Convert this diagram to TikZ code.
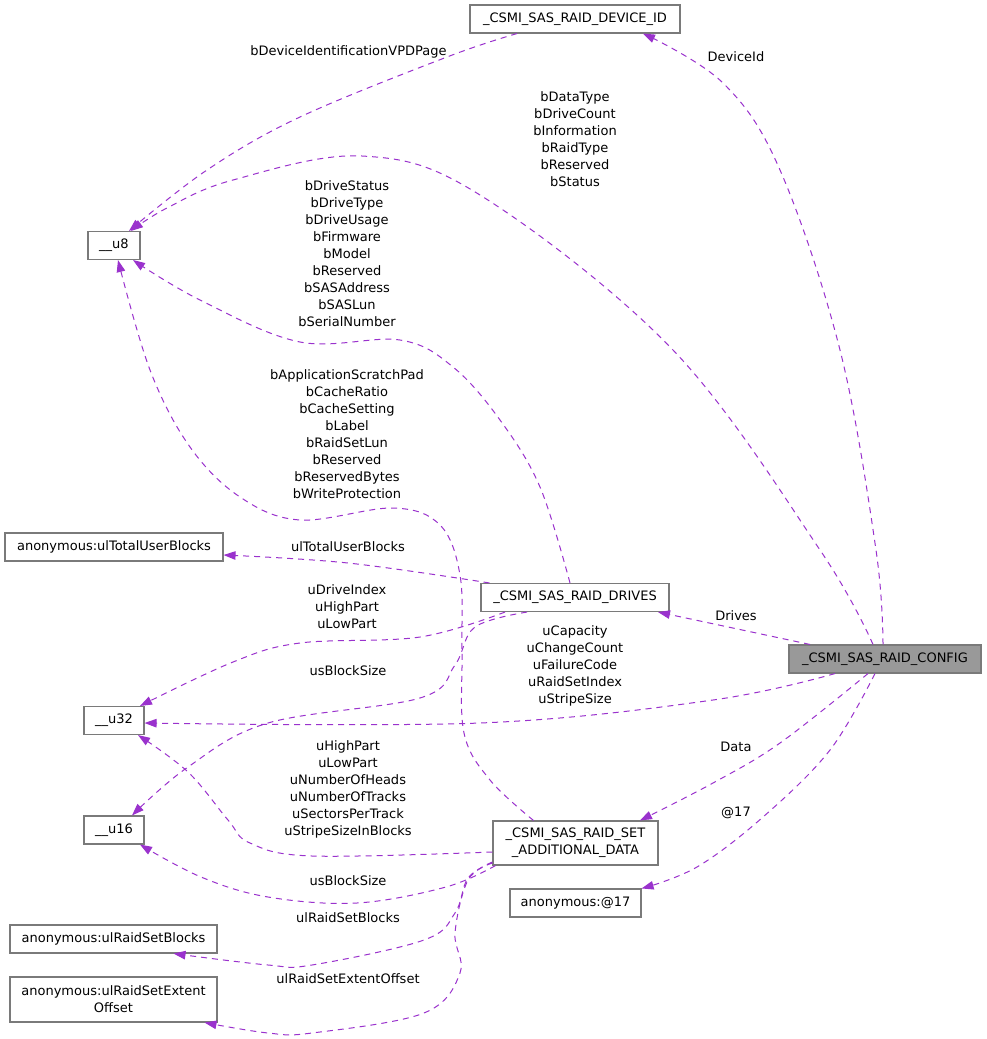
\documentclass[tikz,border=0pt]{standalone}
\usepackage{fontspec}
\setmainfont{DejaVu Sans}
\usetikzlibrary{arrows.meta}
\definecolor{edgec}{HTML}{9A32CD}
\definecolor{boxc}{HTML}{7A7A7A}
\definecolor{cfgfill}{HTML}{999999}
\begin{document}
\begin{tikzpicture}[x=1pt,y=-1pt,
  box/.style={draw=boxc,line width=1.1pt,minimum height=28pt,inner sep=0pt,font=\fontsize{13}{17}\selectfont,align=center},
  lbl/.style={inner sep=0pt,font=\fontsize{13}{17}\selectfont,align=center},
  edge/.style={draw=edgec,line width=1pt,dash pattern=on 6pt off 5pt,-{Triangle[length=12pt,width=8.5pt]}}]
\useasboundingbox[fill=white] (0,0) rectangle (986,1039);
% nodes
\node[box,minimum width=210pt] (devid) at (575,19) {\_CSMI\_SAS\_RAID\_DEVICE\_ID};
\node[box,minimum width=52pt] (u8) at (114,245.5) {\_\_u8};
\node[box,minimum width=218pt] (ultot) at (114,547) {anonymous:ulTotalUserBlocks};
\node[box,minimum width=188pt] (drives) at (575,597.5) {\_CSMI\_SAS\_RAID\_DRIVES};
\node[box,minimum width=192pt,fill=cfgfill] (cfg) at (885,659) {\_CSMI\_SAS\_RAID\_CONFIG};
\node[box,minimum width=60pt] (u32) at (114,720.5) {\_\_u32};
\node[box,minimum width=60pt] (u16) at (114,830) {\_\_u16};
\node[box,minimum width=165pt,minimum height=44pt] (set) at (575.5,843) {\_CSMI\_SAS\_RAID\_SET\\\_ADDITIONAL\_DATA};
\node[box,minimum width=131pt] (a17) at (575.5,903) {anonymous:@17};
\node[box,minimum width=207pt] (blocks) at (113.5,939) {anonymous:ulRaidSetBlocks};
\node[box,minimum width=207pt,minimum height=45pt] (extent) at (113.5,999.5) {anonymous:ulRaidSetExtent\\Offset};
% labels
\node[lbl] (l1) at (736,57) {DeviceId};
\node[lbl] (l2) at (348.5,52) {bDeviceIdentificationVPDPage};
\node[lbl] (l3) at (575,139) {bDataType\\bDriveCount\\bInformation\\bRaidType\\bReserved\\bStatus};
\node[lbl] (l4) at (347,254) {bDriveStatus\\bDriveType\\bDriveUsage\\bFirmware\\bModel\\bReserved\\bSASAddress\\bSASLun\\bSerialNumber};
\node[lbl] (l5) at (347,434.5) {bApplicationScratchPad\\bCacheRatio\\bCacheSetting\\bLabel\\bRaidSetLun\\bReserved\\bReservedBytes\\bWriteProtection};
\node[lbl] (l6) at (348,547) {ulTotalUserBlocks};
\node[lbl] (l7) at (347,607) {uDriveIndex\\uHighPart\\uLowPart};
\node[lbl] (l8) at (348,671) {usBlockSize};
\node[lbl] (l9) at (736,616) {Drives};
\node[lbl] (l10) at (575,665.5) {uCapacity\\uChangeCount\\uFailureCode\\uRaidSetIndex\\uStripeSize};
\node[lbl] (l11) at (348,789.5) {uHighPart\\uLowPart\\uNumberOfHeads\\uNumberOfTracks\\uSectorsPerTrack\\uStripeSizeInBlocks};
\node[lbl] (l12) at (736,747) {Data};
\node[lbl] (l13) at (736,813) {@17};
\node[lbl] (l14) at (348,881) {usBlockSize};
\node[lbl] (l15) at (348,918) {ulRaidSetBlocks};
\node[lbl] (l16) at (348,979) {ulRaidSetExtentOffset};
% edges
\draw[edge] plot[smooth,tension=0.6] coordinates {([xshift=-2pt]cfg.north) (876,550) (840,350) (780,170) (723,83) ([xshift=68pt]devid.south)};
\draw[edge] plot[smooth,tension=0.6] coordinates {([xshift=-12pt]cfg.north) (820,550) (673,350) (480,195) (362,156) (233,180) (167,208) ([xshift=17pt]u8.north)};
\draw[edge] plot[smooth,tension=0.6] coordinates {([xshift=-58pt]devid.south) (447,57) (300,117) (207,170) ([xshift=15pt]u8.north)};
\draw[edge] plot[smooth,tension=0.6] coordinates {([xshift=-5pt]drives.north) (540,487) (500,420) (453,367) (400,340) (300,342) (200,300) ([xshift=19pt]u8.south)};
\draw[edge] plot[smooth,tension=0.6] coordinates {([xshift=-42pt]set.north) (490,780) (464,733) (462,650) (460,575) (440,525) (393,508) (300,520) (240,497) (190,447) (150,370) ([xshift=4pt]u8.south)};
\draw[edge] plot[smooth,tension=0.6] coordinates {([xshift=9pt]drives.north west) (348,563) ([yshift=-8pt]ultot.east)};
\draw[edge] plot[smooth,tension=0.6] coordinates {([xshift=-70pt]drives.south) (420,637) (300,643) (233,662) ([xshift=26pt]u32.north)};
\draw[edge] plot[smooth,tension=0.6] coordinates {([xshift=-48pt]drives.south) (475,627) (455,665) (420,698) (268,723) (188,767) ([xshift=18pt]u16.north)};
\draw[edge] ([xshift=-75pt]cfg.north) -- ([xshift=83pt]drives.south);
\draw[edge] plot[smooth,tension=0.6] coordinates {([xshift=-50pt]cfg.south) (713,700) (480,723) ([yshift=-2.5pt]u32.east)};
\draw[edge] plot[smooth,tension=0.6] coordinates {([xshift=-17pt]cfg.south) (780,743) (713,783) ([xshift=64.5pt]set.north)};
\draw[edge] plot[smooth,tension=0.6] coordinates {([xshift=-10pt]cfg.south) (830,750) (763,817) (697,867) (a17.north east)};
\draw[edge] plot[smooth,tension=0.6] coordinates {([yshift=-9pt]set.west) (312,856) (250,843) (228,820) (188,772) ([xshift=24pt]u32.south)};
\draw[edge] plot[smooth,tension=0.6] coordinates {([xshift=3pt]set.south west) (446,887) (357,903) (268,897) (201,877) ([xshift=26pt]u16.south)};
\draw[edge] plot[smooth,tension=0.6] coordinates {([yshift=-19pt]set.west) (468,878) (455,913) (424,940) (312,965) (268,965) ([xshift=60pt]blocks.south)};
\draw[edge] plot[smooth,tension=0.6] coordinates {([yshift=-20pt]set.west) (468,880) (455,933) (460,973) (424,1013) (312,1033) (268,1033) ([xshift=91pt]extent.south)};
\end{tikzpicture}
\end{document}
